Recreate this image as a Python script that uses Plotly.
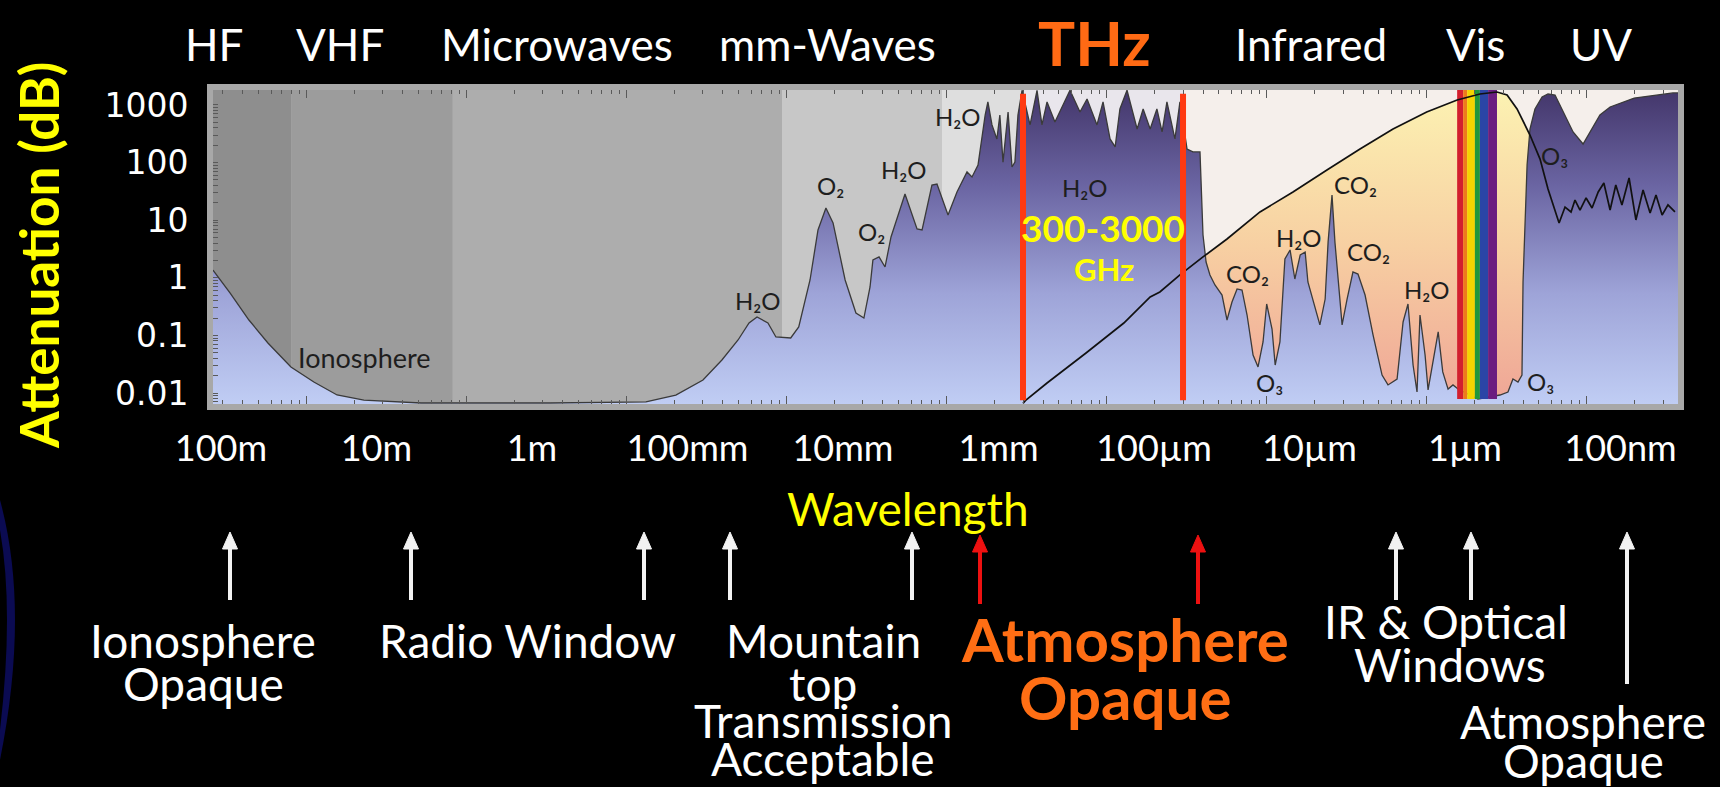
import numpy as np
import plotly.graph_objects as go

W, H = 1720, 787
FONT = "Lato, 'Open Sans', sans-serif"
WIDE_FONT = "'DejaVu Sans', Lato, sans-serif"

# ---------------------------------------------------------------- data
# Attenuation along the sea-level path (frequency in GHz, attenuation in dB)
freq_ghz = [
    0.0026, 0.00332, 0.00436, 0.00573, 0.00798, 0.0111, 0.0155, 0.0228, 0.0519, 0.332,
    1.32, 2.03, 3.00, 3.94, 4.97, 5.82, 6.53, 7.64, 8.57, 10.6,
    11.9, 14.0, 15.7, 17.6, 19.5, 23.2, 27.1, 30.4, 33.2, 34.6,
    37.8, 41.2, 44.9, 54.9, 65.3, 70.2, 80.9, 87.0, 102, 116,
    134, 144, 157, 174, 181, 192, 206, 215, 225, 242,
    256, 267, 279, 296, 332, 367, 394, 424, 475, 533,
    590, 681, 754, 870, 949, 1050, 1130, 1210, 1340, 1550,
    1690, 1870, 2060, 2220, 2380, 2670, 2870, 3180, 3460, 3830,
    4000, 4180, 4420, 4750, 5260, 5650, 6070, 6530, 7010, 7540,
    8220, 8830, 9490, 10000, 10800, 11300, 12100, 13000, 14000, 15000,
    16200, 17400, 18100, 21500, 23200, 24200, 25600, 26700, 29600, 31800,
    34600, 37200, 41200, 46200, 52600, 57300, 65300, 71200, 76400, 82200,
    87000, 90800, 97700, 102000, 110000, 118000, 126000, 136000, 146000, 157000,
    209000, 287000, 322000, 346000, 372000, 394000, 400000, 424000, 442000, 475000,
    526000, 573000, 634000, 711000, 822000, 949000, 1050000, 1210000, 1400000, 1980000,
    3460000, 3720000,
]
atten_db = [
    1.36, 0.545, 0.185, 0.0738, 0.0283, 0.0155, 0.00923, 0.00755, 0.0067, 0.0067,
    0.0070, 0.0092, 0.0168, 0.0374, 0.0832, 0.164, 0.209, 0.164, 0.0938, 0.0902,
    0.140, 0.916, 6.76, 16.3, 8.94, 0.916, 0.245, 0.200, 0.692, 2.04,
    2.30, 1.54, 5.11, 28.5, 7.03, 6.76, 40.8, 42.5, 12.3, 30.9,
    68.7, 56.2, 90.9, 670, 1130, 450, 257, 670, 102, 756,
    83.9, 102, 670, 1800, 450, 1800, 450, 1130, 507, 1000,
    1800, 756, 1270, 450, 1130, 257, 187, 852, 1800, 383,
    852, 383, 852, 340, 1130, 257, 1130, 172, 153, 153,
    5.53, 1.88, 1.12, 0.750, 0.502, 0.185, 0.380, 0.640, 0.614, 0.226,
    0.0457, 0.0283, 0.0768, 0.351, 0.129, 0.0306, 0.0768, 2.12, 3.04, 0.953,
    2.49, 2.80, 0.845, 0.152, 0.428, 4.19, 27.4, 4.19, 0.152, 0.428,
    1.26, 1.16, 0.502, 0.102, 0.0205, 0.0138, 0.0175, 0.171, 0.351, 0.0306,
    0.0104, 0.226, 0.0457, 0.0113, 0.0389, 0.115, 0.0232, 0.0117, 0.0138, 0.0117,
    0.00787, 0.00923, 0.0104, 0.0175, 0.0155, 0.0205, 0.845, 90.9, 383, 852,
    1380, 1550, 1490, 756, 340, 210, 340, 670, 923, 1320,
    1620, 1620,
]

# Black reference curve: rises from the THz edge through the IR/visible window,
# falls at the UV ozone edge and continues as the upper-atmosphere trace
edge_freq_ghz = [
    300, 313, 424, 743, 1280, 1870, 2150, 2870, 4000, 5650, 9080,
    14600, 23800, 38300, 61600, 100000, 155000, 215000, 275000, 318000, 367000,
    412000, 442000, 511000, 573000, 672000, 732000, 798000, 845000, 908000, 991000,
    1080000, 1180000, 1280000, 1400000, 1520000, 1660000, 1840000, 2030000, 2250000, 2490000,
    2710000, 2960000, 3220000, 3560000,
]
edge_db = [
    0.0066, 0.00755, 0.0149, 0.0494, 0.164, 0.464, 0.567, 1.12, 2.30, 4.72, 13.9,
    30.9, 74.4, 172, 383, 756, 1220, 1550, 1680, 1490, 852,
    450, 301, 115, 34.8, 8.94, 16.9, 13.9, 22.4, 15.0, 24.3,
    16.3, 30.9, 44.2, 15.0, 40.8, 18.4, 54.0, 10.1, 33.4, 13.3,
    27.4, 12.3, 18.4, 13.9,
]

# 300-3000 GHz band limits
thz_band_ghz = [300, 3000]

# Visible-light stripes (edges in GHz, red to violet)
visible_edges_ghz = [1.55e5, 1.69e5, 1.79e5, 2.00e5, 2.15e5, 2.42e5, 2.75e5]
visible_colors = ["#d21f2e", "#ee7a1c", "#f4d400", "#21963c", "#2b45a6", "#6b1d80"]

# Shaded background regions behind the curve
band_edges_ghz = [2.6e-3, 8.0e-3, 0.082, 9.35, 93.5, 300, 3000, 3.72e6]
band_colors = ["#8e8e8e", "#9c9c9c", "#adadad", "#c7c7c7", "#dedede", "#e9e6ec", "#f5efeb"]

# Wavelength scale printed under the chart
wl_tick_m = [100, 10, 1, 0.1, 0.01, 1e-3, 1e-4, 1e-5, 1e-6, 1e-7]
wl_tick_text = ["100m", "10m", "1m", "100mm", "10mm", "1mm", "100µm", "10µm", "1µm", "100nm"]

db_tick = [0.01, 0.1, 1, 10, 100, 1000]
db_tick_text = ["0.01", "0.1", "1", "10", "100", "1000"]

# ---------------------------------------------------------------- geometry
PLOT_L, PLOT_R, PLOT_T, PLOT_B = 213, 1678, 90, 404
X_RANGE = [np.log10(band_edges_ghz[0]), np.log10(band_edges_ghz[-1])]
Y_RANGE = [-2.191, 3.260]
WL_RANGE = [2.051, -7.370]
FLOOR = 10 ** Y_RANGE[0]
CEIL = 10 ** Y_RANGE[1]
Y_SPAN = Y_RANGE[1] - Y_RANGE[0]


def px(x):
    return x / W


def py(y):
    return 1 - y / H


def y_at(frac):
    """dB value at a fraction of the plot height."""
    return 10 ** (Y_RANGE[0] + frac * Y_SPAN)


fig = go.Figure()

# background regions
for i, col in enumerate(band_colors):
    x0, x1 = band_edges_ghz[i], band_edges_ghz[i + 1]
    fig.add_trace(go.Scatter(
        x=[x0, x1, x1, x0, x0], y=[FLOOR, FLOOR, CEIL, CEIL, FLOOR],
        mode="lines", line=dict(width=0), fill="toself", fillcolor=col,
        hoverinfo="skip", showlegend=False))

# window area under the black curve
fig.add_trace(go.Scatter(
    x=[edge_freq_ghz[0]] + edge_freq_ghz + [edge_freq_ghz[-1]],
    y=[FLOOR] + edge_db + [FLOOR],
    mode="lines", line=dict(width=0), fill="toself",
    fillgradient=dict(type="vertical",
                      colorscale=[[0, "#efa596"], [0.5, "#f7cfa2"], [1, "#fcf2b2"]]),
    hoverinfo="skip", showlegend=False))

# attenuation area
fig.add_trace(go.Scatter(
    x=[freq_ghz[0]] + freq_ghz + [freq_ghz[-1]],
    y=[FLOOR] + atten_db + [FLOOR],
    mode="lines", line=dict(width=0), fill="toself",
    fillgradient=dict(type="vertical",
                      colorscale=[[0, "#c0cdf4"], [0.35, "#9ea4d8"],
                                  [0.7, "#6a64a2"], [1, "#43366a"]]),
    hoverinfo="skip", showlegend=False))

# attenuation outline
fig.add_trace(go.Scatter(
    x=freq_ghz, y=atten_db, mode="lines",
    line=dict(color="#3a3a3a", width=1.3), hoverinfo="skip", showlegend=False))

# visible stripes
rb_lo, rb_hi = y_at(0.016), CEIL
for i, col in enumerate(visible_colors):
    x0, x1 = visible_edges_ghz[i], visible_edges_ghz[i + 1]
    fig.add_trace(go.Scatter(
        x=[x0, x1, x1, x0, x0], y=[rb_lo, rb_lo, rb_hi, rb_hi, rb_lo],
        mode="lines", line=dict(width=0), fill="toself", fillcolor=col,
        hoverinfo="skip", showlegend=False))

# black curve
fig.add_trace(go.Scatter(
    x=edge_freq_ghz, y=edge_db, mode="lines",
    line=dict(color="#111111", width=1.7), hoverinfo="skip", showlegend=False))

# 300 / 3000 GHz markers
for f in thz_band_ghz:
    fig.add_trace(go.Scatter(
        x=[f, f], y=[y_at(0.012), y_at(0.988)], mode="lines",
        line=dict(color="#ff3a12", width=6), hoverinfo="skip", showlegend=False))

# carries the wavelength scale
fig.add_trace(go.Scatter(
    x=wl_tick_m, y=[1] * len(wl_tick_m), xaxis="x2", yaxis="y",
    mode="markers", marker=dict(opacity=0), hoverinfo="skip", showlegend=False))

# ---------------------------------------------------------------- text
ann = []


def text(s, x, y, size, color="white", bold=False, family=FONT, **kw):
    if bold:
        s = "<b>" + s + "</b>"
    ann.append(dict(text=s, x=px(x), y=py(y), xref="paper", yref="paper",
                    xanchor="center", yanchor="middle", showarrow=False,
                    font=dict(family=family, size=size, color=color), **kw))


# spectral regions above the chart
for s, x in [("HF", 214), ("VHF", 340), ("Microwaves", 557), ("mm-Waves", 827),
             ("Infrared", 1311), ("Vis", 1475), ("UV", 1601)]:
    text(s, x, 44, 44)
text("THz", 1094, 42, 62, color="#ff6a14", bold=True)

# absorption labels in the chart
mol_color = "#1e1e1e"
for s, x, y in [
    ("H₂O", 758, 300), ("O₂", 830, 186), ("O₂", 871, 232),
    ("H₂O", 904, 169), ("H₂O", 958, 117), ("H₂O", 1085, 187),
    ("CO₂", 1247, 274), ("O₃", 1269, 383), ("H₂O", 1299, 237),
    ("CO₂", 1355, 184), ("CO₂", 1368, 252), ("H₂O", 1427, 289),
    ("O₃", 1540, 381), ("O₃", 1554, 155),
]:
    text(s, x, y, 24, color=mol_color)
text("Ionosphere", 364, 357, 27, color=mol_color)
text("300-3000", 1103, 227, 37, color="#ffff00", bold=True)
text("GHz", 1104, 269, 31, color="#ffff00", bold=True)

# axis titles
text("Wavelength", 908, 508, 46, color="#ffff00")
text("Attenuation (dB)", 38, 256, 53, color="#ffff00", bold=True, textangle=-90)

# captions under the arrows
for s, x, y in [("Ionosphere", 203, 640), ("Opaque", 203, 683),
                ("Radio Window", 527, 640),
                ("Mountain", 823, 640), ("top", 823, 683),
                ("Transmission", 823, 720), ("Acceptable", 823, 758),
                ("IR &amp; Optical", 1446, 621), ("Windows", 1450, 664),
                ("Atmosphere", 1583, 721), ("Opaque", 1583, 760)]:
    text(s, x, y, 46)
text("Atmosphere", 1125, 639, 60, color="#ff6e14", bold=True)
text("Opaque", 1125, 697, 60, color="#ff6e14", bold=True)

# ---------------------------------------------------------------- arrows (shapes)
shapes = []
HEAD_W, HEAD_L, SHAFT_W = 7.5, 17, 4


def arrow(x, tip, tail, col):
    shapes.append(dict(type="line", xref="paper", yref="paper",
                       x0=px(x), x1=px(x), y0=py(tail), y1=py(tip + HEAD_L - 2),
                       line=dict(color=col, width=SHAFT_W)))
    path = "M {:.5f},{:.5f} L {:.5f},{:.5f} L {:.5f},{:.5f} Z".format(
        px(x - HEAD_W), py(tip + HEAD_L), px(x), py(tip), px(x + HEAD_W), py(tip + HEAD_L))
    shapes.append(dict(type="path", xref="paper", yref="paper", path=path,
                       fillcolor=col, line=dict(color=col, width=1)))


WHITE, RED = "#f2f2f2", "#ee1111"
for x, tip, tail, col in [(230, 532, 600, WHITE), (411, 532, 600, WHITE),
                          (644, 532, 600, WHITE), (730, 532, 600, WHITE),
                          (912, 532, 600, WHITE), (980, 535, 604, RED),
                          (1198, 535, 604, RED), (1396, 532, 600, WHITE),
                          (1471, 532, 600, WHITE), (1627, 532, 684, WHITE)]:
    arrow(x, tip, tail, col)

# dark blue swoosh on the slide's left edge
shapes.append(dict(type="path", xref="paper", yref="paper", layer="below",
                   path="M {:.5f},{:.5f} Q {:.5f},{:.5f} {:.5f},{:.5f} L 0,{:.5f} Q {:.5f},{:.5f} 0,{:.5f} Z".format(
                       px(0), py(500), px(30), py(610), px(0), py(760),
                       py(730), px(14), py(610), py(530)),
                   fillcolor="#0b0b52", line=dict(width=0)))

# ---------------------------------------------------------------- layout
tick_col = "#5a5a5a"
fig.update_layout(
    width=W, height=H, margin=dict(l=0, r=0, t=0, b=0, autoexpand=False),
    paper_bgcolor="black", plot_bgcolor="#c8c8c8", showlegend=False,
    font=dict(family=FONT),
    xaxis=dict(type="log", range=X_RANGE, domain=[px(PLOT_L), px(PLOT_R)],
               anchor="y", automargin=False, showgrid=False, zeroline=False,
               showticklabels=False, dtick=1, ticks="inside", ticklen=8, tickwidth=1,
               tickcolor=tick_col, mirror="allticks", showline=True,
               linecolor="#a8a8a8", linewidth=6,
               minor=dict(ticks="inside", ticklen=4, tickcolor=tick_col, dtick="D1")),
    xaxis2=dict(type="log", range=WL_RANGE, overlaying="x", anchor="y", side="bottom",
                automargin=False, tickvals=wl_tick_m, ticktext=wl_tick_text, ticks="",
                showline=False, showgrid=False, zeroline=False, ticklabelstandoff=20,
                tickfont=dict(family=FONT, size=36, color="white")),
    # major ticks sit outside in the background colour so the labels clear the frame;
    # the visible tick marks inside the frame are the minor ones
    yaxis=dict(type="log", range=Y_RANGE, domain=[py(PLOT_B), py(PLOT_T)],
               anchor="x", automargin=False, tickvals=db_tick, ticktext=db_tick_text,
               ticks="outside", ticklen=12, tickwidth=1, tickcolor="rgba(0,0,0,0)",
               showline=True, mirror=True, linecolor="#a8a8a8", linewidth=6,
               showgrid=False, zeroline=False,
               tickfont=dict(family=WIDE_FONT, size=33, color="white"),
               minor=dict(ticks="inside", ticklen=5, tickcolor=tick_col, dtick="D1")),
    annotations=ann,
    shapes=shapes,
)

fig.write_html("out.html")
